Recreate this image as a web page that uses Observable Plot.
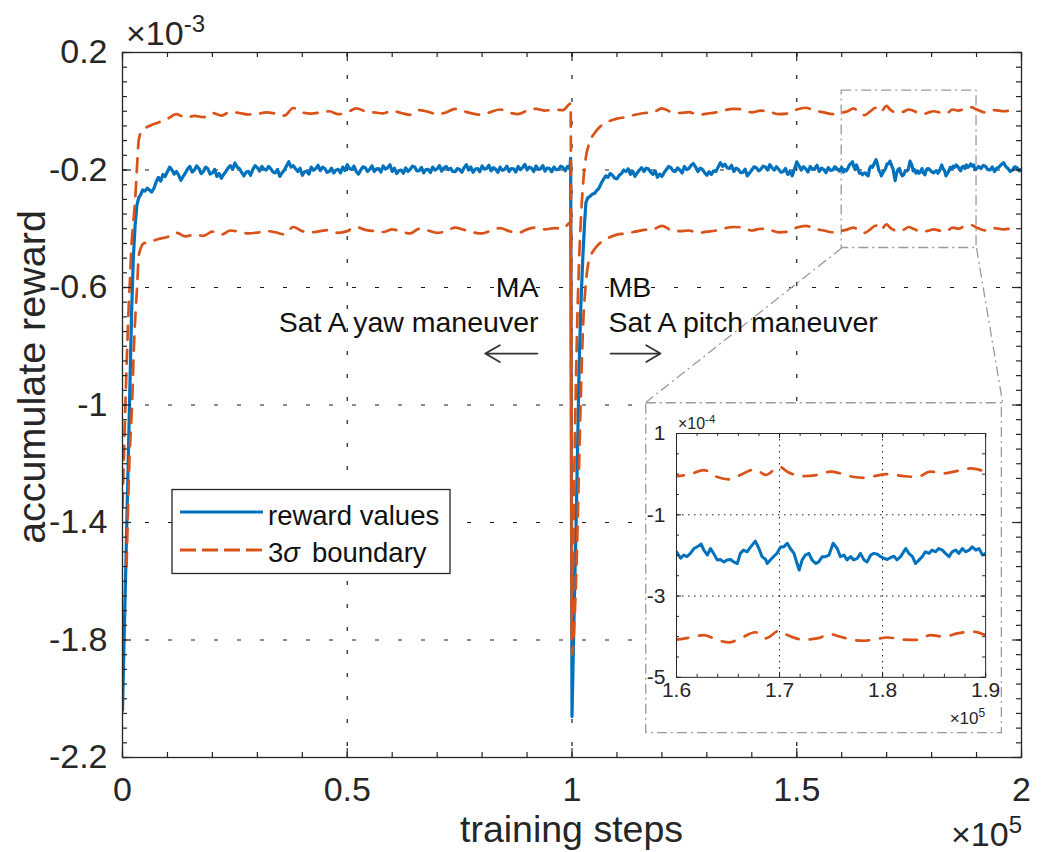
<!DOCTYPE html>
<html>
<head>
<meta charset="utf-8">
<script src="https://cdn.jsdelivr.net/npm/d3@7"></script>
<script src="https://cdn.jsdelivr.net/npm/@observablehq/plot@0.6"></script>
<style>
html,body{margin:0;padding:0;background:#fff;}
#chart{position:relative;width:1041px;height:852px;overflow:hidden;background:#fff;}
</style>
</head>
<body>
<div id="chart"></div>
<script>
// ---------------- tick labels ----------------
const xTickValues = [0, 50000, 100000, 150000, 200000];
const xTickLabels = ["0", "0.5", "1", "1.5", "2"];
const yTickValues = [0.2, -0.2, -0.6, -1, -1.4, -1.8, -2.2];
const yTickLabels = ["0.2", "-0.2", "-0.6", "-1", "-1.4", "-1.8", "-2.2"];
const insetXTickValues = [160000, 170000, 180000, 190000];
const insetXTickLabels = ["1.6", "1.7", "1.8", "1.9"];
const insetYTickValues = [0.1, -0.1, -0.3, -0.5];
const insetYTickLabels = ["1", "-1", "-3", "-5"];
const xLabelText = "training steps";
const yLabelText = "accumulate reward";
const seriesNames = ["reward values", "boundary"];

// ---------------- reward values (x10^-3) ----------------
const rampStepsA = [0, 400, 800, 1200, 1600, 2000, 2400, 2800, 3200, 3600];
const rampRewardA = [-2.04, -1.77, -1.51, -1.24, -0.97, -0.70, -0.50, -0.39, -0.32, -0.295];
// MA phase, every 500 steps from 4000
const rewardA = [
  -0.285,-0.268,-0.272,-0.262,-0.268,-0.275,-0.262,-0.240,-0.225,-0.238,
  -0.215,-0.222,-0.205,-0.190,-0.200,-0.214,-0.205,-0.218,-0.235,-0.222,
  -0.210,-0.196,-0.188,-0.207,-0.200,-0.186,-0.195,-0.212,-0.205,-0.190,
  -0.196,-0.214,-0.210,-0.198,-0.222,-0.212,-0.228,-0.215,-0.205,-0.193,
  -0.185,-0.198,-0.176,-0.190,-0.195,-0.208,-0.220,-0.207,-0.205,-0.218,
  -0.198,-0.185,-0.192,-0.204,-0.188,-0.197,-0.200,-0.188,-0.196,-0.207,
  -0.210,-0.198,-0.222,-0.210,-0.200,-0.186,-0.172,-0.190,-0.185,-0.196,
  -0.205,-0.194,-0.218,-0.206,-0.205,-0.214,-0.190,-0.201,-0.195,-0.184,
  -0.202,-0.190,-0.195,-0.208,-0.205,-0.194,-0.210,-0.200,-0.198,-0.210,
  -0.190,-0.202,-0.182,-0.195,-0.198,-0.187,-0.205,-0.214,-0.200,-0.189,
  -0.192,-0.205,-0.198,-0.186,-0.205,-0.196,-0.195,-0.207,-0.186,-0.197,
  -0.192,-0.182,-0.205,-0.194,-0.212,-0.202,-0.200,-0.211,-0.193,-0.205,
  -0.198,-0.187,-0.190,-0.203,-0.202,-0.191,-0.210,-0.199,-0.198,-0.209,
  -0.190,-0.200,-0.196,-0.185,-0.204,-0.193,-0.188,-0.199,-0.194,-0.205,
  -0.206,-0.195,-0.198,-0.208,-0.192,-0.182,-0.200,-0.190,-0.208,-0.197,
  -0.195,-0.206,-0.186,-0.197,-0.195,-0.184,-0.203,-0.192,-0.197,-0.208,
  -0.190,-0.201,-0.198,-0.187,-0.205,-0.195,-0.196,-0.207,-0.188,-0.199,
  -0.192,-0.181,-0.200,-0.190,-0.194,-0.205,-0.186,-0.197,-0.196,-0.185,
  -0.204,-0.193,-0.195,-0.206,-0.190,-0.199,-0.198,-0.187,-0.192,-0.203,
  -0.188,-0.196
];
const switchSteps = [99700];
const switchReward = [-0.160];
const rampStepsB = [100000, 100500, 100900, 101300, 101600, 102000, 102400, 102800, 103100, 103500];
const rampRewardB = [-2.06, -1.68, -1.41, -1.10, -0.86, -0.65, -0.50, -0.38, -0.31, -0.295];
// MB phase, every 500 steps from 104000
const rewardB1 = [
  -0.290,-0.282,-0.280,-0.270,-0.262,-0.245,-0.232,-0.220,-0.225,-0.212,
  -0.218,-0.228,-0.230,-0.218,-0.212,-0.200,-0.205,-0.196,-0.215,-0.204,
  -0.222,-0.210,-0.200,-0.192,-0.205,-0.194,-0.196,-0.207,-0.215,-0.203,
  -0.225,-0.214,-0.222,-0.209,-0.198,-0.188,-0.192,-0.203,-0.205,-0.193,
  -0.200,-0.210,-0.188,-0.199,-0.195,-0.184,-0.178,-0.190,-0.205,-0.194,
  -0.198,-0.209,-0.218,-0.206,-0.215,-0.203,-0.205,-0.191,-0.175,-0.188,
  -0.180,-0.192,-0.195,-0.184,-0.205,-0.194,-0.198,-0.209,-0.208,-0.197,
  -0.220,-0.210,-0.200,-0.189,-0.192,-0.203,-0.198,-0.187,-0.190,-0.200,
  -0.182,-0.193,-0.200,-0.189,-0.198,-0.208,-0.205,-0.195,-0.215,-0.205,
  -0.220,-0.196,-0.172,-0.186,-0.200,-0.189,-0.196,-0.207,-0.188,-0.198,
  -0.195,-0.184,-0.205,-0.194,-0.198,-0.209,-0.192,-0.201,-0.200,-0.189,
  -0.196,-0.204
];
// zoomed window 1.6e5 .. 1.9e5
const zoomSteps = [
  160000,160400,160700,161000,161350,161700,162000,162400,162650,163000,
  163300,163600,163950,164250,164600,164900,165250,165550,165900,166200,
  166500,166850,167200,167650,168000,168300,168650,168800,169150,169450,
  169750,170100,170400,170750,171050,171400,171700,171900,172200,172500,
  172850,173150,173500,173800,174150,174450,174800,175200,175600,175900,
  176250,176550,176900,177200,177550,177850,178200,178500,178850,179150,
  179500,179800,180150,180450,180800,181100,181400,181750,182250,182550,
  182900,183200,183550,183850,184150,184500,184800,185150,185450,185800,
  186100,186450,186750,187100,187400,187750,188050,188400,188700,189050,
  189350,189700,190000
];
const zoomReward = [
  -0.191,-0.207,-0.199,-0.203,-0.195,-0.183,-0.179,-0.172,-0.187,-0.199,
  -0.183,-0.195,-0.211,-0.210,-0.216,-0.211,-0.210,-0.216,-0.220,-0.195,
  -0.187,-0.191,-0.179,-0.165,-0.183,-0.203,-0.210,-0.220,-0.210,-0.202,
  -0.195,-0.179,-0.179,-0.170,-0.183,-0.195,-0.220,-0.236,-0.211,-0.199,
  -0.195,-0.211,-0.220,-0.216,-0.203,-0.203,-0.199,-0.170,-0.183,-0.203,
  -0.199,-0.211,-0.203,-0.211,-0.207,-0.195,-0.211,-0.216,-0.199,-0.195,
  -0.197,-0.203,-0.207,-0.210,-0.205,-0.202,-0.211,-0.203,-0.183,-0.195,
  -0.203,-0.220,-0.211,-0.203,-0.191,-0.195,-0.187,-0.191,-0.183,-0.187,
  -0.195,-0.203,-0.191,-0.187,-0.195,-0.183,-0.191,-0.187,-0.179,-0.187,
  -0.183,-0.199,-0.195
];
// every 500 steps from 190500
const rewardB2 = [
  -0.188,-0.195,-0.184,-0.188,-0.199,-0.200,-0.190,-0.205,-0.194,-0.190,
  -0.181,-0.175,-0.188,-0.195,-0.205,-0.200,-0.189,-0.192,-0.203,-0.198
];

// ---------------- 3 sigma boundaries (x10^-3) ----------------
const upperRampStepsA = [0, 400, 800, 1200, 1400, 1700, 1940, 2400, 2900, 3300, 3600, 4300, 5000];
const upperRampA = [-1.35, -1.13, -0.92, -0.74, -0.66, -0.56, -0.47, -0.38, -0.28, -0.17, -0.10, -0.066, -0.058];
const lowerRampStepsA = [900, 1560, 2150, 2500, 3270, 3630, 4700];
const lowerRampA = [-1.55, -1.18, -0.99, -0.82, -0.59, -0.49, -0.45];
// every 2000 steps from 6000
const upperA = [
  -0.050,-0.038,-0.026,-0.010,-0.022,-0.016,-0.020,-0.006,-0.015,-0.002,
  -0.006,-0.011,-0.009,-0.004,-0.008,-0.015, 0.011,-0.004,-0.008,-0.004,
   0.000,-0.010,-0.004, 0.010, 0.000,-0.004,-0.007, 0.002,-0.006,-0.012,
   0.004,-0.002,-0.010,-0.004, 0.008, 0.000,-0.008,-0.012,-0.002, 0.006,
  -0.004,-0.010, 0.002, 0.008, 0.002, 0.006, 0.004
];
const lowerA = [
  -0.445,-0.435,-0.428,-0.414,-0.426,-0.420,-0.424,-0.410,-0.420,-0.406,
  -0.410,-0.416,-0.413,-0.408,-0.412,-0.419,-0.394,-0.408,-0.412,-0.408,
  -0.404,-0.414,-0.408,-0.394,-0.404,-0.408,-0.411,-0.402,-0.410,-0.416,
  -0.400,-0.406,-0.414,-0.408,-0.396,-0.404,-0.412,-0.416,-0.406,-0.398,
  -0.408,-0.414,-0.402,-0.396,-0.402,-0.398,-0.400
];
const upperSwitch = [0.026];
const lowerSwitch = [-0.378];
const upperRampStepsB = [100000, 100400, 100800, 101200, 101600, 102000, 102500, 103000, 103800, 105000];
const upperRampB = [-1.80, -1.35, -0.98, -0.70, -0.50, -0.36, -0.24, -0.165, -0.11, -0.075];
const lowerRampStepsB = [100000, 100500, 101000, 101500, 102000, 102500, 103000, 103600, 104200, 105000];
const lowerRampB = [-1.85, -1.75, -1.55, -1.25, -0.95, -0.72, -0.60, -0.52, -0.49, -0.47];
// every 2000 steps from 106000
const upperB1 = [
  -0.056,-0.036,-0.025,-0.020,-0.012,-0.006,-0.004, 0.010,-0.002,-0.006,
  -0.003,-0.012,-0.008,-0.004, 0.004, 0.008, 0.006,-0.004, 0.002,-0.002,
  -0.010,-0.008, 0.006, 0.012, 0.002,-0.004,-0.010
];
const lowerB1 = [
  -0.452,-0.432,-0.420,-0.416,-0.410,-0.404,-0.402,-0.390,-0.404,-0.408,
  -0.406,-0.414,-0.410,-0.406,-0.398,-0.394,-0.396,-0.406,-0.400,-0.404,
  -0.412,-0.410,-0.396,-0.390,-0.400,-0.406,-0.412
];
const zoomBoundSteps = [160000,161350,162650,163950,165100,166200,167650,168650,170000,170750,
  172350,173650,174950,175900,177200,178200,179150,180450,182050,183350,184650,185950,187250,188550,189000];
const zoomUpper = [-0.005,0.000,0.010,-0.007,-0.013,-0.002,0.012,-0.002,0.018,0.006,
  -0.005,-0.002,0.006,0.002,-0.007,-0.009,-0.005,0.000,-0.005,-0.007,0.006,0.002,0.008,0.014,0.013];
const zoomLower = [-0.407,-0.402,-0.396,-0.408,-0.414,-0.404,-0.389,-0.404,-0.385,-0.396,
  -0.407,-0.404,-0.394,-0.400,-0.408,-0.410,-0.407,-0.402,-0.407,-0.408,-0.396,-0.400,-0.392,-0.388,-0.388];
// every 2000 steps from 190000
const upperB2 = [0.006, -0.004, 0.004, 0.000, 0.004];
const lowerB2 = [-0.396, -0.406, -0.398, -0.402, -0.398];

// ---------------- annotations ----------------
const annotationTextsLeft = ["MA", "Sat A yaw maneuver"];
const annotationTextsRight = ["MB", "Sat A pitch maneuver"];
const annotationValues = [-0.60, -0.72];
const annotationStepLeft = 92550;
const annotationStepRight = 108100;
const arrowFromSteps = [92300, 108600];
const arrowToSteps = [80700, 119700];
const arrowValue = -0.825;
const zoomWindowSteps = [160000, 190000];
const zoomWindowValues = [-0.4655, 0.0703];
const insetBoxSteps = [116350, 195800];
const insetBoxValues = [-2.12, -0.992];

// ---------------- assemble ----------------
const fromSteps = (steps, vals) => steps.map((s, i) => ({s, v: vals[i]}));
const fromGrid = (start, every, vals) => vals.map((v, i) => ({s: start + i * every, v}));
const reward = [
  ...fromSteps(rampStepsA, rampRewardA),
  ...fromGrid(4000, 500, rewardA),
  ...fromSteps(switchSteps, switchReward),
  ...fromSteps(rampStepsB, rampRewardB),
  ...fromGrid(104000, 500, rewardB1),
  ...fromSteps(zoomSteps, zoomReward),
  ...fromGrid(190500, 500, rewardB2)
];
const upper = [
  ...fromSteps(upperRampStepsA, upperRampA),
  ...fromGrid(6000, 2000, upperA),
  ...fromSteps(switchSteps, upperSwitch),
  ...fromSteps(upperRampStepsB, upperRampB),
  ...fromGrid(106000, 2000, upperB1),
  ...fromSteps(zoomBoundSteps, zoomUpper),
  ...fromGrid(190000, 2000, upperB2)
];
const lower = [
  ...fromSteps(lowerRampStepsA, lowerRampA),
  ...fromGrid(6000, 2000, lowerA),
  ...fromSteps(switchSteps, lowerSwitch),
  ...fromSteps(lowerRampStepsB, lowerRampB),
  ...fromGrid(106000, 2000, lowerB1),
  ...fromSteps(zoomBoundSteps, zoomLower),
  ...fromGrid(190000, 2000, lowerB2)
];

const FONT = '"Liberation Sans", Arial, Helvetica, sans-serif';
const BLUE = "#0072BD", ORANGE = "#D95319", AXIS = "#262626", GRAY = "#9a9a9a";

function boxTicks(xMaj, xMin, yMaj, yMin, iw, ih, majLen, minLen, sw) {
  const o = {stroke: AXIS, strokeWidth: sw};
  return [
    Plot.tickX(xMaj, {...o, x: d => d, insetTop: ih - majLen}),
    Plot.tickX(xMaj, {...o, x: d => d, insetBottom: ih - majLen}),
    Plot.tickX(xMin, {...o, x: d => d, insetTop: ih - minLen}),
    Plot.tickX(xMin, {...o, x: d => d, insetBottom: ih - minLen}),
    Plot.tickY(yMaj, {...o, y: d => d, insetRight: iw - majLen}),
    Plot.tickY(yMaj, {...o, y: d => d, insetLeft: iw - majLen}),
    Plot.tickY(yMin, {...o, y: d => d, insetRight: iw - minLen}),
    Plot.tickY(yMin, {...o, y: d => d, insetLeft: iw - minLen})
  ];
}

// ---------------- main chart ----------------
const W = 1041, H = 852, mL = 122, mR = 20, mT = 52, mB = 95;
const iw = W - mL - mR, ih = H - mT - mB;
const xMinor = d3.range(0, 21).map(i => i * 10000);
const yMinor = d3.range(0, 49).map(i => +(-2.2 + i * 0.05).toFixed(2));
const xLab = new Map(xTickValues.map((d, i) => [d, xTickLabels[i]]));
const yLab = new Map(yTickValues.map((d, i) => [d, yTickLabels[i]]));
const gridDash = "4,19";

const zoomBox = [{x1: zoomWindowSteps[0], x2: zoomWindowSteps[1], y1: zoomWindowValues[0], y2: zoomWindowValues[1]}];
const zoomLinks = [
  {x1: zoomWindowSteps[0], y1: zoomWindowValues[0], x2: insetBoxSteps[0], y2: insetBoxValues[1]},
  {x1: zoomWindowSteps[1], y1: zoomWindowValues[0], x2: insetBoxSteps[1], y2: insetBoxValues[1]}
];
const arrows = arrowFromSteps.map((s, i) => ({x1: s, x2: arrowToSteps[i], y: arrowValue}));
const annLeft = annotationTextsLeft.map((t, i) => ({t, s: annotationStepLeft, v: annotationValues[i]}));
const annRight = annotationTextsRight.map((t, i) => ({t, s: annotationStepRight, v: annotationValues[i]}));

const main = Plot.plot({
  width: W, height: H,
  marginLeft: mL, marginRight: mR, marginTop: mT, marginBottom: mB,
  style: {fontFamily: FONT, fontSize: "34px", color: AXIS, background: "white", overflow: "visible"},
  x: {domain: [0, 200000], label: null},
  y: {domain: [-2.2, 0.2], label: null},
  marks: [
    Plot.ruleX(xTickValues.slice(1, -1), {x: d => d, stroke: "#1a1a1a", strokeWidth: 1.2, strokeDasharray: gridDash}),
    Plot.ruleY(yTickValues.slice(1, -1), {y: d => d, stroke: "#1a1a1a", strokeWidth: 1.2, strokeDasharray: gridDash}),
    Plot.link(zoomLinks, {x1: "x1", y1: "y1", x2: "x2", y2: "y2", stroke: GRAY, strokeWidth: 1.3, strokeDasharray: "10,4,2,4"}),
    Plot.rect(zoomBox, {x1: "x1", x2: "x2", y1: "y1", y2: "y2", fill: "none", stroke: GRAY, strokeWidth: 1.3, strokeDasharray: "10,4,2,4"}),
    Plot.line(reward, {x: "s", y: "v", stroke: BLUE, strokeWidth: 3.2, clip: true}),
    Plot.line(upper, {x: "s", y: "v", stroke: ORANGE, strokeWidth: 2.7, strokeDasharray: "14,10", curve: "monotone-x", clip: true}),
    Plot.line(lower, {x: "s", y: "v", stroke: ORANGE, strokeWidth: 2.7, strokeDasharray: "14,10", curve: "monotone-x", clip: true}),
    Plot.arrow(arrows, {x1: "x1", x2: "x2", y1: "y", y2: "y", stroke: "#333", strokeWidth: 1.8, headLength: 14, headAngle: 60}),
    Plot.text(annLeft, {x: "s", y: "v", text: "t", textAnchor: "end", fontSize: 28.5, fill: "#111", ariaLabel: "annotation"}),
    Plot.text(annRight, {x: "s", y: "v", text: "t", textAnchor: "start", fontSize: 28.5, fill: "#111", ariaLabel: "annotation"}),
    ...boxTicks(xTickValues, xMinor, yTickValues, yMinor, iw, ih, 9, 5, 1.2),
    Plot.frame({stroke: AXIS, strokeWidth: 1.3}),
    Plot.axisX({ticks: xTickValues, tickFormat: d => xLab.get(d), tickSize: 0, tickPadding: 19, label: null, fontSize: 34, color: AXIS}),
    Plot.axisY({ticks: yTickValues, tickFormat: d => yLab.get(d), tickSize: 0, tickPadding: 15, label: null, fontSize: 34, color: AXIS})
  ]
});
const chart = document.getElementById("chart");
chart.appendChild(main);

const svg = d3.select(main);
svg.selectAll('g[aria-label="annotation"] text').each(function () {
  const b = this.getBBox();
  const padX = 5;
  d3.select(this.parentNode).insert("rect", "text")
    .attr("x", b.x - padX).attr("y", b.y + 2).attr("width", b.width + 2 * padX).attr("height", b.height - 2)
    .attr("fill", "white")
    .attr("transform", this.getAttribute("transform"));
});

// exponent labels and axis titles
const ex1 = svg.append("text").attr("x", 126).attr("y", 45).attr("text-anchor", "start").attr("font-size", 34).attr("fill", AXIS);
ex1.append("tspan").text("\u00D710");
ex1.append("tspan").attr("font-size", 24).attr("dy", -13).text("-3");
const ex2 = svg.append("text").attr("x", 1022).attr("y", 846).attr("text-anchor", "end").attr("font-size", 34).attr("fill", AXIS);
ex2.append("tspan").text("\u00D710");
ex2.append("tspan").attr("font-size", 24).attr("dy", -13).text("5");
svg.append("text").attr("x", mL + iw / 2).attr("y", 842).attr("text-anchor", "middle")
  .attr("font-size", 37.5).attr("fill", AXIS).text(xLabelText);
svg.append("text").attr("transform", "translate(45,377) rotate(-90)").attr("text-anchor", "middle")
  .attr("font-size", 39.5).attr("fill", AXIS).text(yLabelText);

// legend
const lg = svg.append("g").attr("text-anchor", "start");
lg.append("rect").attr("x", 172).attr("y", 489.5).attr("width", 278).attr("height", 84)
  .attr("fill", "white").attr("stroke", AXIS).attr("stroke-width", 1.3);
lg.append("line").attr("x1", 180).attr("x2", 263).attr("y1", 512).attr("y2", 512)
  .attr("stroke", BLUE).attr("stroke-width", 2.8);
lg.append("line").attr("x1", 180).attr("x2", 263).attr("y1", 550).attr("y2", 550)
  .attr("stroke", ORANGE).attr("stroke-width", 2.8).attr("stroke-dasharray", "16,6");
lg.append("text").attr("x", 268).attr("y", 525).attr("text-anchor", "start").attr("font-size", 27.5).attr("fill", "#111").text(seriesNames[0]);
const t2 = lg.append("text").attr("x", 268).attr("y", 562).attr("text-anchor", "start").attr("font-size", 27.5).attr("fill", "#111");
t2.append("tspan").text("3");
t2.append("tspan").attr("font-style", "italic").text("\u03C3");
t2.append("tspan").attr("dx", 12).text(seriesNames[1]);

// ---------------- inset ----------------
const sx = main.scale("x"), sy = main.scale("y");
const px = v => sx.apply ? sx.apply(v) : mL + (v - 0) / 200000 * iw;
const py = v => sy.apply ? sy.apply(v) : mT + (0.2 - v) / 2.4 * ih;
const bx0 = px(insetBoxSteps[0]), bx1 = px(insetBoxSteps[1]);
const by0 = py(insetBoxValues[1]), by1 = py(insetBoxValues[0]);
const IW = bx1 - bx0, IH = by1 - by0;
const imL = 31, imR = 17, imT = 31, imB = 56.5;
const iiw = IW - imL - imR, iih = IH - imT - imB;
const insetXMinor = d3.range(0, 16).map(i => 160000 + i * 2000);
const insetYMinor = d3.range(0, 13).map(i => +(-0.5 + i * 0.05).toFixed(2));
const ixLab = new Map(insetXTickValues.map((d, i) => [d, insetXTickLabels[i]]));
const iyLab = new Map(insetYTickValues.map((d, i) => [d, insetYTickLabels[i]]));

const inset = Plot.plot({
  width: IW, height: IH,
  marginLeft: imL, marginRight: imR, marginTop: imT, marginBottom: imB,
  style: {fontFamily: FONT, fontSize: "21px", color: AXIS, background: "white", overflow: "visible"},
  x: {domain: [160000, 190000], label: null},
  y: {domain: [-0.5, 0.1], label: null},
  marks: [
    Plot.ruleX(insetXTickValues.slice(1, -1), {x: d => d, stroke: "#1a1a1a", strokeWidth: 1, strokeDasharray: "1.5,4.5"}),
    Plot.ruleY(insetYTickValues.slice(1, -1), {y: d => d, stroke: "#1a1a1a", strokeWidth: 1, strokeDasharray: "1.5,4.5"}),
    Plot.line(reward, {x: "s", y: "v", stroke: BLUE, strokeWidth: 3, clip: true}),
    Plot.line(upper, {x: "s", y: "v", stroke: ORANGE, strokeWidth: 2.7, strokeDasharray: "13,11", curve: "monotone-x", clip: true}),
    Plot.line(lower, {x: "s", y: "v", stroke: ORANGE, strokeWidth: 2.7, strokeDasharray: "13,11", curve: "monotone-x", clip: true}),
    ...boxTicks(insetXTickValues, insetXMinor, insetYTickValues, insetYMinor, iiw, iih, 5, 3, 1),
    Plot.frame({stroke: AXIS, strokeWidth: 1}),
    Plot.axisX({ticks: insetXTickValues, tickFormat: d => ixLab.get(d), tickSize: 0, tickPadding: 5, label: null, fontSize: 21, color: AXIS}),
    Plot.axisY({ticks: insetYTickValues, tickFormat: d => iyLab.get(d), tickSize: 0, tickPadding: 11, label: null, fontSize: 21, color: AXIS})
  ]
});
inset.style.position = "absolute";
inset.style.left = bx0 + "px";
inset.style.top = by0 + "px";
chart.appendChild(inset);
const isvg = d3.select(inset);
isvg.append("rect").attr("x", 0.75).attr("y", 0.75).attr("width", IW - 1.5).attr("height", IH - 1.5)
  .attr("fill", "none").attr("stroke", GRAY).attr("stroke-width", 1.3).attr("stroke-dasharray", "10,4,2,4");
const ie1 = isvg.append("text").attr("x", imL + 2).attr("y", imT - 4).attr("text-anchor", "start").attr("font-size", 16).attr("fill", AXIS);
ie1.append("tspan").text("\u00D710");
ie1.append("tspan").attr("font-size", 11.5).attr("dy", -6).text("-4");
const ie2 = isvg.append("text").attr("x", IW - imR).attr("y", IH - 9).attr("text-anchor", "end").attr("font-size", 17).attr("fill", AXIS);
ie2.append("tspan").text("\u00D710");
ie2.append("tspan").attr("font-size", 12).attr("dy", -7).text("5");
</script>
</body>
</html>
